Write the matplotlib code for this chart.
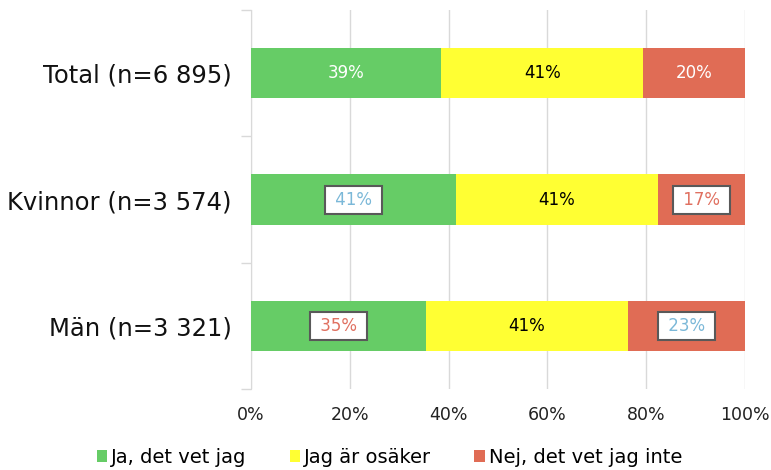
import matplotlib.pyplot as plt
import numpy as np

# data
categories = ['Total (n=6 895)', 'Kvinnor (n=3 574)', 'Män (n=3 321)']
series = ['Ja, det vet jag', 'Jag är osäker', 'Nej, det vet jag inte']
ja = [38.5, 41.5, 35.4]
osaker = [40.9, 40.9, 40.9]
nej = [20.6, 17.6, 23.7]
ja_lbl = ['39%', '41%', '35%']
osaker_lbl = ['41%', '41%', '41%']
nej_lbl = ['20%', '17%', '23%']
xticks = [0, 20, 40, 60, 80, 100]

colors = ['#66CC66', '#FFFF33', '#E06C55']
blue_txt = '#7BB8D8'
red_txt = '#E07060'

plt.rcParams['font.family'] = ['DejaVu Sans']

fig = plt.figure(figsize=(7.71, 4.70), dpi=100)
ax = fig.add_axes([0.3256, 0.1723, 0.6407, 0.8064])

y = np.arange(len(categories))
vals = [ja, osaker, nej]
left = np.zeros(len(categories))
bars = []
for v, c, name in zip(vals, colors, series):
    b = ax.barh(y, v, left=left, height=0.4, color=c, label=name, zorder=3)
    bars.append((b, left.copy(), np.array(v)))
    left += np.array(v)

# labels: style per cell
styles = [
    [('white', None), ('black', None), ('white', None)],
    [(blue_txt, 'box'), ('black', None), (red_txt, 'box')],
    [(red_txt, 'box'), ('black', None), (blue_txt, 'box')],
]
lbls = [ja_lbl, osaker_lbl, nej_lbl]
for s in range(3):
    b, lft, v = bars[s]
    for i in range(len(categories)):
        col, box = styles[i][s]
        kw = {}
        if box:
            kw['bbox'] = dict(boxstyle='square,pad=0.3', fc='white', ec='#595959', lw=1.5)
        ax.text(lft[i] + v[i] / 2, y[i], ' ' + lbls[s][i] + ' ' if box else lbls[s][i],
                ha='center', va='center', color=col, fontsize=12, zorder=5, **kw)

ax.set_xlim(0, 100)
ax.set_ylim(2.5, -0.5)
ax.set_xticks(xticks)
ax.set_xticklabels([f'{t}%' for t in xticks], fontsize=12.5, color='#222222')
ax.tick_params(axis='x', length=0, pad=12)
ax.xaxis.grid(True, color='#D9D9D9', lw=1, zorder=0)

ax.set_yticks(y)
ax.set_yticklabels(categories, fontsize=17.5, color='#111111')
ax.set_yticks([-0.5, 0.5, 1.5, 2.5], minor=True)
ax.tick_params(axis='y', which='major', length=0, pad=14)
ax.tick_params(axis='y', which='minor', length=7, color='#D9D9D9', width=1)

for sp in ['top', 'right', 'bottom']:
    ax.spines[sp].set_visible(False)
ax.spines['left'].set_color('#D9D9D9')

fig.legend(loc='lower center', bbox_to_anchor=(0.505, -0.03), ncol=3, frameon=False,
           fontsize=14, handlelength=0.55, handleheight=0.55, handletextpad=0.2,
           columnspacing=2.2)

fig.savefig('out.png', dpi=100)
